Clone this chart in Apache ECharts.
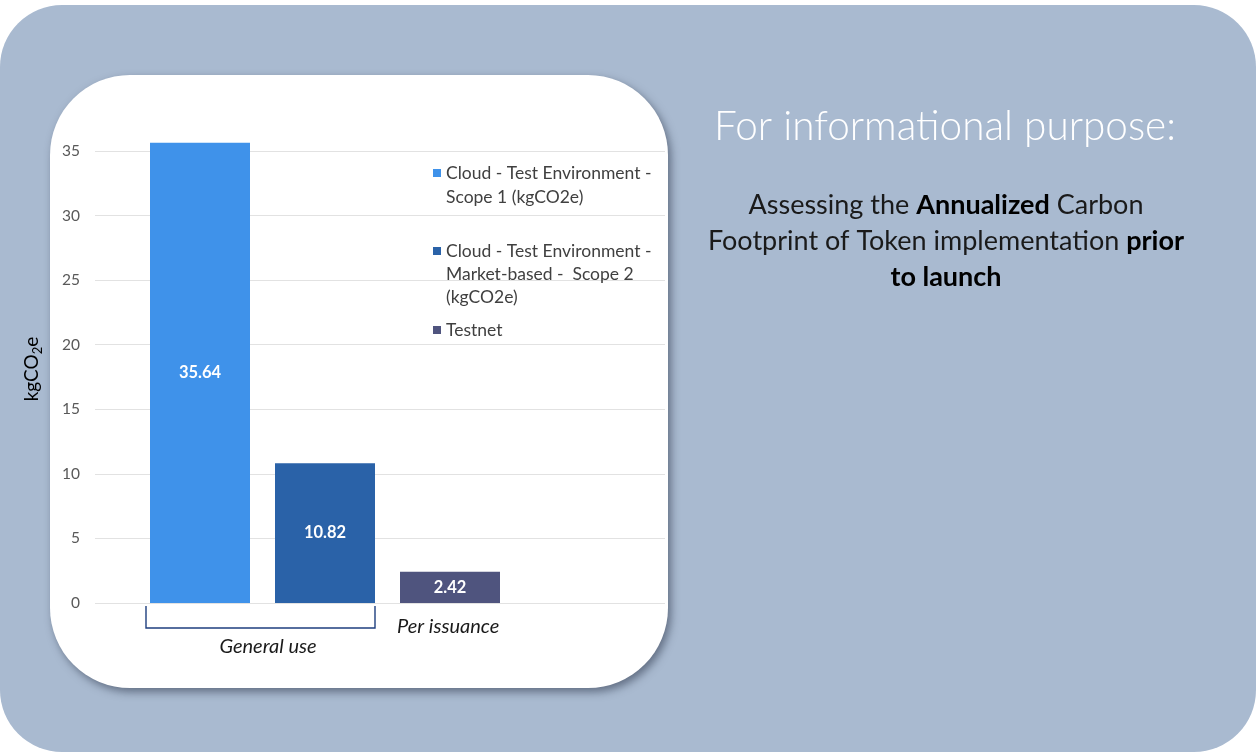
<!DOCTYPE html>
<html>
<head>
<meta charset="utf-8">
<script src="https://cdn.jsdelivr.net/npm/echarts@6/dist/echarts.min.js"></script>
<style>
  html, body { margin: 0; padding: 0; background: #ffffff; }
  #chart { width: 1256px; height: 752px; }
</style>
</head>
<body>
<div id="chart"></div>
<script>
// Emission sources, one bar each
const categories = ['Scope 1', 'Scope 2', 'Testnet'];
const seriesNames = [
  'Cloud - Test Environment -\nScope 1 (kgCO2e)',
  'Cloud - Test Environment -\nMarket-based -  Scope 2\n(kgCO2e)',
  'Testnet'
];
const values = [35.64, 10.82, 2.42];
const barColors = ['#3f92ea', '#2a62a8', '#4f547e'];
// Value axis ticks (kgCO2e)
const yMin = 0, yMax = 35, yStep = 5;

const FONT = 'Lato, "Open Sans", sans-serif';

const chart = echarts.init(document.getElementById('chart'), null, { renderer: 'canvas' });

// Legend icon: a square sitting on the first text line of a block of given height
function iconFor(blockH, lineH) {
  const top = (lineH - 8) / 2;
  return 'path://M0,0 M0,' + blockH + ' M0,' + top + ' L8,' + top + ' L8,' + (top + 8) + ' L0,' + (top + 8) + ' Z';
}

const legendBlocks = [
  { top: 161, lines: 2, lineH: 24 },
  { top: 239.5, lines: 3, lineH: 23 },
  { top: 318.5, lines: 1, lineH: 23 }
];

const legends = seriesNames.map((name, i) => {
  const b = legendBlocks[i];
  const h = b.lines * b.lineH;
  return {
    data: [name],
    orient: 'vertical',
    left: 433,
    top: b.top,
    padding: 0,
    itemWidth: 8,
    itemHeight: h,
    icon: iconFor(h, b.lineH),
    selectedMode: false,
    textStyle: { color: '#404040', fontSize: 17.5, fontFamily: FONT, lineHeight: b.lineH }
  };
});

const series = seriesNames.map((name, i) => ({
  type: 'bar',
  name: name,
  xAxisIndex: 1,
  yAxisIndex: 1,
  barWidth: 100,
  barGap: '-100%',
  clip: false,
  data: categories.map((c, j) => (j === i ? values[i] : '-')),
  itemStyle: { color: barColors[i] },
  label: {
    show: true,
    position: 'inside',
    color: '#ffffff',
    fontSize: 16.5,
    fontWeight: 'bold',
    fontFamily: FONT,
    formatter: p => p.value.toFixed(2)
  }
}));

chart.setOption({
  animation: false,
  backgroundColor: 'transparent',
  graphic: [
    // slide background
    { type: 'rect', z: -20, shape: { x: 0, y: 5, width: 1256, height: 747, r: 62 },
      style: { fill: '#a9bad0' } },
    // white chart panel
    { type: 'rect', z: -10, shape: { x: 50, y: 75, width: 618, height: 613, r: 80 },
      style: { fill: '#ffffff', shadowColor: 'rgba(40,50,70,0.55)', shadowBlur: 8, shadowOffsetX: 3, shadowOffsetY: 4 } },
    // y axis title
    { type: 'text', z: 10, x: 32, y: 369, rotation: Math.PI / 2,
      style: {
        text: '{n|kgCO}{s|2}{n|e}',
        align: 'center', verticalAlign: 'middle',
        rich: {
          n: { fontSize: 19, fontFamily: FONT, fill: '#000000', lineHeight: 24, verticalAlign: 'middle' },
          s: { fontSize: 13, fontFamily: FONT, fill: '#000000', lineHeight: 24, verticalAlign: 'bottom', padding: [7, 0, 0, 0] }
        }
      } },
    // grouping bracket under the first two bars
    { type: 'polyline', z: 10,
      shape: { points: [[146, 606], [146, 628], [375, 628], [375, 606]] },
      style: { stroke: '#1f3f7f', lineWidth: 1.4, fill: null } },
    { type: 'text', z: 10, x: 268, y: 647,
      style: { text: 'General use', align: 'center', verticalAlign: 'middle', fontSize: 20,
        fontStyle: 'italic', fontFamily: FONT, fill: '#1a1a1a' } },
    { type: 'text', z: 10, x: 397, y: 627,
      style: { text: 'Per issuance', align: 'left', verticalAlign: 'middle', fontSize: 20,
        fontStyle: 'italic', fontFamily: FONT, fill: '#1a1a1a' } },
    // side note
    { type: 'text', z: 10, x: 945, y: 127,
      style: { text: 'For informational purpose:', align: 'center', verticalAlign: 'middle',
        fontSize: 40.5, fontWeight: 300, fontFamily: FONT, fill: '#ffffff' } },
    { type: 'text', z: 10, x: 946, y: 241,
      style: {
        text: 'Assessing the {b|Annualized} Carbon\nFootprint of Token implementation {b|prior}\n{b|to launch}',
        align: 'center', verticalAlign: 'middle',
        fontSize: 27, fontFamily: FONT, fill: '#1a1a1a', lineHeight: 36,
        rich: {
          b: { fontSize: 27, fontFamily: FONT, fontWeight: 'bold', fill: '#000000', lineHeight: 36 }
        }
      } }
  ],
  legend: legends,
  grid: [
    { left: 95, right: 591, top: 151, bottom: 149 },
    { left: 137.5, right: 743.5, top: 151, bottom: 149 }
  ],
  xAxis: [
    { gridIndex: 0, type: 'value', min: 0, max: 1, show: false },
    { gridIndex: 1, type: 'category', data: categories, show: false }
  ],
  yAxis: [
    { gridIndex: 0, type: 'value', min: yMin, max: yMax, interval: yStep,
      axisLine: { show: false }, axisTick: { show: false },
      axisLabel: { color: '#595959', fontSize: 15.5, fontFamily: FONT, margin: 15 },
      splitLine: { lineStyle: { color: '#e2e2e2', width: 1 } } },
    { gridIndex: 1, type: 'value', min: yMin, max: yMax, interval: yStep, show: false,
      splitLine: { show: false } }
  ],
  series: series
});
</script>
</body>
</html>
